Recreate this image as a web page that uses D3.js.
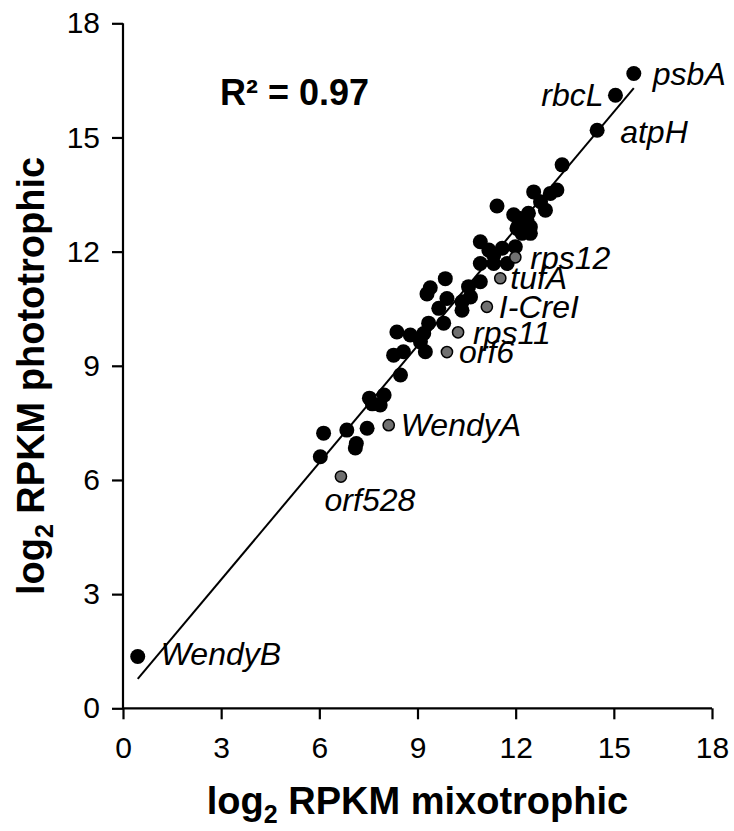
<!DOCTYPE html>
<html><head><meta charset="utf-8">
<script src="https://cdn.jsdelivr.net/npm/d3@7"></script>
<style>body{margin:0;background:#fff;} svg{display:block;font-family:Arial,"Liberation Sans",sans-serif;}</style>
</head><body><svg id="c" width="734" height="831"></svg>
<script>
// ---- data ----
const blackX = [6.03,6.13,6.84,7.13,7.10,7.46,7.53,7.98,7.86,7.62,8.48,8.27,8.57,8.37,8.78,9.19,9.09,9.24,9.34,9.80,9.65,9.90,9.39,9.29,9.85,10.36,10.36,10.62,10.56,10.92,10.92,11.33,11.74,10.92,11.18,11.59,11.33,11.99,12.19,12.45,12.09,12.35,11.94,12.39,11.43,12.76,12.91,12.55,13.06,13.26,13.42,12.14,12.04,12.45];
const blackY = [6.61,7.23,7.31,6.96,6.84,7.36,8.15,8.23,7.97,8.00,8.76,9.28,9.37,9.89,9.81,9.85,9.63,9.37,10.12,10.12,10.51,10.77,11.05,10.89,11.29,10.68,10.46,10.81,11.08,11.21,11.69,11.69,11.69,12.26,12.04,12.09,11.91,12.13,12.48,12.48,12.70,12.79,12.97,13.01,13.20,13.31,13.09,13.57,13.53,13.62,14.28,12.87,12.61,12.65];
const namedBlack = ["psbA","rbcL","atpH","WendyB"];
const namedBlackX = [15.61,15.05,14.49,0.45];
const namedBlackY = [16.68,16.11,15.19,1.36];
const grayNames = ["rps12","tufA","I-CreI","rps11","orf6","WendyA","orf528"];
const grayX = [11.99,11.53,11.12,10.24,9.90,8.12,6.66];
const grayY = [11.85,11.30,10.55,9.88,9.36,7.44,6.09];
const xTicks = [0,3,6,9,12,15,18];
const yTicks = [0,3,6,9,12,15,18];
const trendSlope = 1.024, trendIntercept = 0.31;
const r2Text = "R² = 0.97";

// ---- layout ----
const svg = d3.select("#c");
const x = d3.scaleLinear().domain([0,18]).range([123,712]);
const y = d3.scaleLinear().domain([0,18]).range([708.3,23.3]);
const labelPos = {
  psbA:{dx:19,dy:0,anchor:"start"}, rbcL:{dx:-12,dy:0,anchor:"end"}, atpH:{dx:23,dy:2,anchor:"start"},
  WendyB:{dx:23,dy:-3,anchor:"start"}, rps12:{dx:15,dy:0,anchor:"start"}, tufA:{dx:10,dy:0,anchor:"start"},
  "I-CreI":{dx:12,dy:0,anchor:"start"}, rps11:{dx:15,dy:0,anchor:"start"}, orf6:{dx:12,dy:0,anchor:"start"},
  WendyA:{dx:12,dy:0,anchor:"start"}, orf528:{dx:29,dy:23,anchor:"middle"}
};

// axes
const xAxis = d3.axisBottom(x).tickValues(xTicks).tickSize(11).tickPadding(17);
const yAxis = d3.axisLeft(y).tickValues(yTicks).tickSize(11).tickPadding(12);
const gx = svg.append("g").attr("transform",`translate(0,${y(0)})`).call(xAxis);
const gy = svg.append("g").attr("transform",`translate(${x(0)},0)`).call(yAxis);
[gx,gy].forEach(g=>{
  g.select(".domain").remove();
  g.selectAll(".tick line").attr("stroke","#000").attr("stroke-width",2.2);
  g.selectAll(".tick text").attr("font-size",30).attr("fill","#000").attr("font-family","Arial, 'Liberation Sans', sans-serif");
});
svg.append("line").attr("x1",x(0)).attr("x2",x(18)).attr("y1",y(0)).attr("y2",y(0)).attr("stroke","#000").attr("stroke-width",2.2);
svg.append("line").attr("x1",x(0)).attr("x2",x(0)).attr("y1",y(0)).attr("y2",y(18)).attr("stroke","#000").attr("stroke-width",2.2);

// trend line
const allX = blackX.concat(namedBlackX, grayX);
const [xmin,xmax] = d3.extent(allX);
svg.append("line").attr("x1",x(xmin)).attr("y1",y(trendSlope*xmin+trendIntercept))
  .attr("x2",x(xmax)).attr("y2",y(trendSlope*xmax+trendIntercept))
  .attr("stroke","#000").attr("stroke-width",2);

// points
const black = blackX.map((v,i)=>({x:v,y:blackY[i]}));
svg.append("g").selectAll("circle").data(black).join("circle")
  .attr("cx",d=>x(d.x)).attr("cy",d=>y(d.y)).attr("r",7.5).attr("fill","#000");
const nb = namedBlack.map((n,i)=>({name:n,x:namedBlackX[i],y:namedBlackY[i]}));
svg.append("g").selectAll("circle").data(nb).join("circle")
  .attr("cx",d=>x(d.x)).attr("cy",d=>y(d.y)).attr("r",7.5).attr("fill","#000");
const gp = grayNames.map((n,i)=>({name:n,x:grayX[i],y:grayY[i]}));
svg.append("g").selectAll("circle").data(gp).join("circle")
  .attr("cx",d=>x(d.x)).attr("cy",d=>y(d.y)).attr("r",5.6).attr("fill","#707070").attr("stroke","#000").attr("stroke-width",1.5);

// labels
svg.append("g").selectAll("text").data(nb.concat(gp)).join("text")
  .attr("x",d=>x(d.x)+labelPos[d.name].dx).attr("y",d=>y(d.y)+labelPos[d.name].dy)
  .attr("dy","0.35em").attr("text-anchor",d=>labelPos[d.name].anchor)
  .attr("font-size",32).attr("font-style","italic").attr("fill","#000").text(d=>d.name);

// R2
svg.append("text").attr("x",220).attr("y",105).attr("font-size",36).attr("font-weight","bold").text(r2Text);

// axis titles
const xt = svg.append("text").attr("x",(x(0)+x(18))/2).attr("y",814).attr("text-anchor","middle")
  .attr("font-size",38).attr("font-weight","bold");
xt.append("tspan").text("log");
xt.append("tspan").attr("font-size",25).attr("dy",9).text("2");
xt.append("tspan").attr("dy",-9).text(" RPKM mixotrophic");
const yt = svg.append("text").attr("transform",`translate(44,376) rotate(-90)`).attr("text-anchor","middle")
  .attr("font-size",38).attr("font-weight","bold");
yt.append("tspan").text("log");
yt.append("tspan").attr("font-size",25).attr("dy",9).text("2");
yt.append("tspan").attr("dy",-9).text(" RPKM phototrophic");
</script></body></html>
